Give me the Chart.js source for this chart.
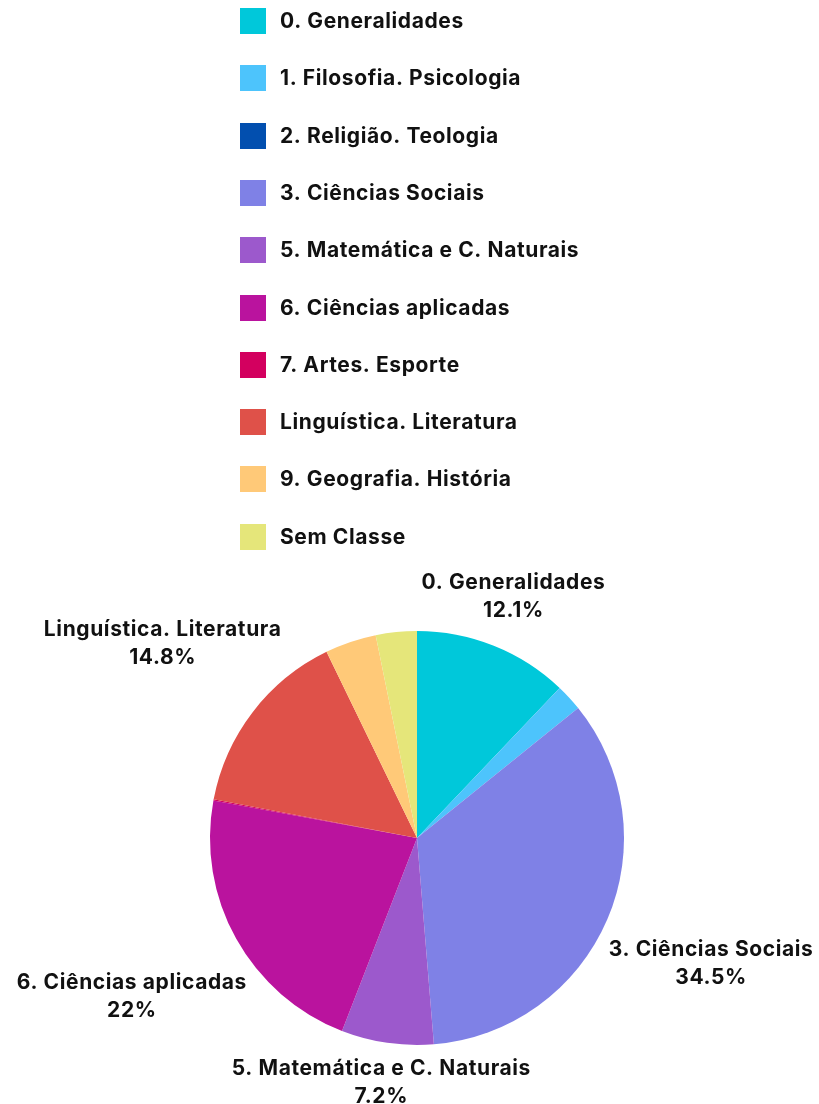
<!DOCTYPE html>
<html>
<head>
<meta charset="utf-8">
<script src="https://cdn.jsdelivr.net/npm/chart.js@4"></script>
<style>
  html, body { margin: 0; padding: 0; background: #fff; }
  #caixa { width: 819px; height: 1104px; }
</style>
</head>
<body>
<div id="caixa"><canvas id="grafico"></canvas></div>
<script>
const categorias = [
  "0. Generalidades",
  "1. Filosofia. Psicologia",
  "2. Religião. Teologia",
  "3. Ciências Sociais",
  "5. Matemática e C. Naturais",
  "6. Ciências aplicadas",
  "7. Artes. Esporte",
  "Linguística. Literatura",
  "9. Geografia. História",
  "Sem Classe"
];
const percentuais = [12.1, 2.1, 0, 34.5, 7.2, 22, 0.1, 14.8, 4.0, 3.2];
const cores = ['#00C8DA', '#4DC4FC', '#024FAF', '#7F81E6', '#9C59CC', '#BA139E', '#D3005F', '#DF5149', '#FFC978', '#E5E67A'];

const FONTE = '700 21px Inter, "Open Sans", sans-serif';
const ESPACAMENTO = '0.6px';
const COR_TEXTO = '#111111';

// legenda vertical centrada no topo
const legendaVertical = {
  id: 'legendaVertical',
  afterDraw(chart) {
    const ctx = chart.ctx;
    const caixa = 26, espaco = 14, passo = 57.3, y0 = 21;
    ctx.save();
    ctx.font = FONTE;
    ctx.letterSpacing = ESPACAMENTO;
    let maior = 0;
    categorias.forEach(c => { maior = Math.max(maior, ctx.measureText(c).width); });
    const esquerda = Math.round((chart.width - (caixa + espaco + maior)) / 2);
    ctx.textBaseline = 'middle';
    ctx.textAlign = 'left';
    categorias.forEach((c, i) => {
      const y = Math.round(y0 + i * passo);
      ctx.fillStyle = cores[i];
      ctx.fillRect(esquerda, y - caixa / 2, caixa, caixa);
      ctx.fillStyle = COR_TEXTO;
      ctx.fillText(c, esquerda + caixa + espaco, y + 1);
    });
    ctx.restore();
  }
};

// rótulos externos (nome + percentual) para as fatias maiores
const rotulosExternos = {
  id: 'rotulosExternos',
  afterDatasetsDraw(chart) {
    const ctx = chart.ctx;
    const meta = chart.getDatasetMeta(0);
    const dados = chart.data.datasets[0].data;
    const total = dados.reduce((a, b) => a + b, 0);
    const linha = 28;
    ctx.save();
    ctx.font = FONTE;
    ctx.letterSpacing = ESPACAMENTO;
    ctx.fillStyle = COR_TEXTO;
    ctx.textAlign = 'center';
    ctx.textBaseline = 'middle';
    meta.data.forEach((arco, i) => {
      const pct = dados[i] / total * 100;
      if (pct < 5) return;
      const txtPct = (Math.round(pct * 10) / 10) + '%';
      const nome = chart.data.labels[i];
      const w = Math.max(ctx.measureText(nome).width, ctx.measureText(txtPct).width);
      const p = arco.getProps(['x', 'y', 'startAngle', 'endAngle', 'outerRadius'], true);
      const meio = (p.startAngle + p.endAngle) / 2;
      const vx = Math.cos(meio), vy = Math.sin(meio);
      const d = p.outerRadius + 19 + Math.abs(vx) * w / 2;
      const cx = p.x + vx * d, cy = p.y + vy * d;
      ctx.fillText(nome, cx, cy - linha / 2);
      ctx.fillText(txtPct, cx, cy + linha / 2);
    });
    ctx.restore();
  }
};

new Chart(document.getElementById('grafico').getContext('2d'), {
  type: 'pie',
  data: {
    labels: categorias,
    datasets: [{
      data: percentuais,
      backgroundColor: cores,
      borderWidth: 0
    }]
  },
  options: {
    responsive: true,
    maintainAspectRatio: false,
    animation: false,
    layout: { padding: { top: 631, left: 209, right: 194, bottom: 59 } },
    plugins: {
      legend: { display: false },
      tooltip: { enabled: true }
    }
  },
  plugins: [legendaVertical, rotulosExternos]
});
</script>
</body>
</html>
